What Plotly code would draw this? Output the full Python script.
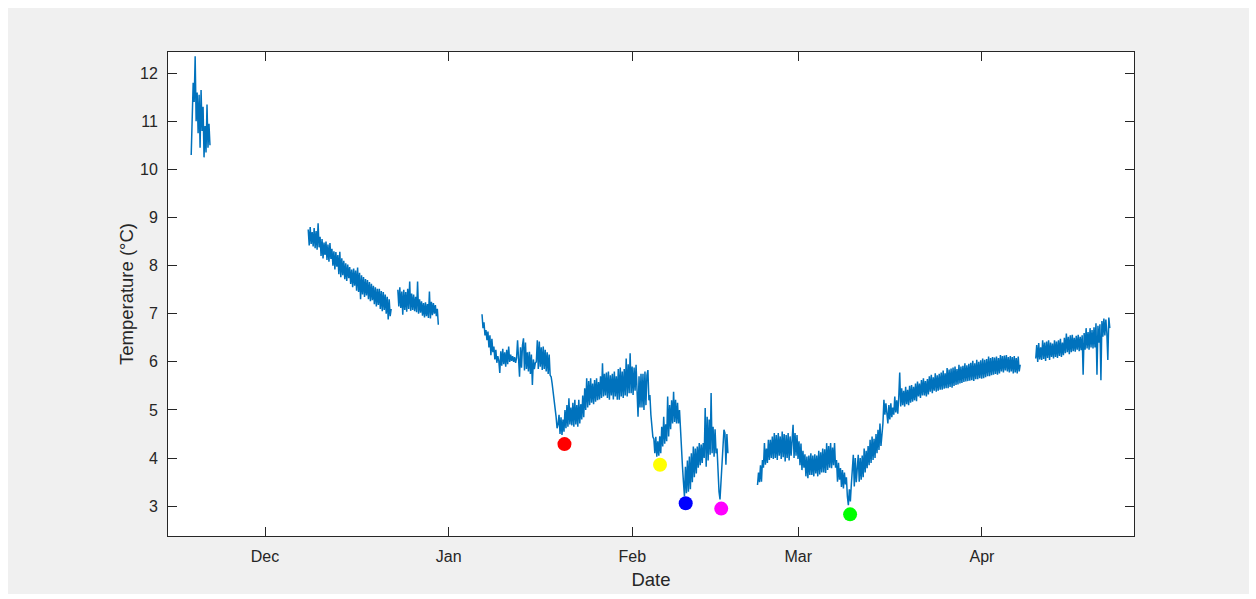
import pandas as pd
import plotly.graph_objects as go

# ---------------- data ----------------
# each segment: start time and temperatures (°C) sampled every step_hours
seg1_start = "2018-11-18 13:00"
seg1_temp = [10.30, 11.20, 11.80, 11.40, 12.35, 11.00, 11.60, 10.75, 11.55, 10.45,
             11.65, 10.80, 11.30, 10.25, 10.90, 10.35, 11.35, 10.45, 10.95, 10.50]

seg2a_start = "2018-12-08 07:00"
seg2a_temp = [8.75, 8.42, 8.80, 8.45, 8.70, 8.40,
              8.78, 8.36, 8.72, 8.33, 8.88, 8.38,
              8.60, 8.20, 8.55, 8.15, 8.48, 8.22,
              8.50, 8.12, 8.44, 8.08, 8.47, 8.14,
              8.35, 8.00, 8.30, 7.92, 8.28, 7.98,
              8.22, 7.82, 8.29, 7.76, 8.15, 7.80,
              8.10, 7.72, 8.05, 7.68, 8.02, 7.74,
              7.97, 7.62, 7.92, 7.55, 7.94, 7.58,
              7.90, 7.48, 7.96, 7.45, 7.85, 7.30,
              7.80, 7.40, 7.76, 7.35, 7.72, 7.38,
              7.70, 7.30, 7.66, 7.26, 7.62, 7.28,
              7.58, 7.20, 7.55, 7.15, 7.52, 7.18,
              7.52, 7.10, 7.47, 7.05, 7.45, 7.08,
              7.40, 7.00, 7.35, 6.88, 7.30, 6.95,
              7.10]

seg2b_start = "2018-12-23 10:00"
seg2b_temp = [7.50, 7.15, 7.55, 7.12, 7.46, 6.98,
              7.50, 7.08, 7.45, 7.04, 7.52, 7.10,
              7.67, 7.06, 7.42, 7.08, 7.40, 7.05,
              7.35, 7.03, 7.67, 7.00, 7.30, 7.02,
              7.26, 6.96, 7.22, 6.92, 7.24, 6.95,
              7.20, 6.91, 7.46, 6.90, 7.25, 6.97,
              7.22, 7.00, 7.18, 6.95, 7.10, 6.77]

seg3_start = "2019-01-06 15:00"
seg3_temp = [6.99, 6.70, 6.82, 6.55, 6.66, 6.45,
             6.63, 6.30, 6.55, 6.14, 6.48, 6.20,
             6.32, 6.05, 6.25, 5.98, 6.12, 6.02,
             5.77, 6.22, 5.92, 6.27, 5.95, 6.20,
             5.90, 6.25, 5.95, 6.32, 6.00, 6.15,
             6.02, 6.12, 6.00, 6.10, 5.98, 6.08,
             6.45, 5.85, 5.69, 6.30, 5.88, 6.35,
             6.49, 5.82, 6.40, 5.85, 6.20, 5.80,
             6.21, 5.75, 6.15, 5.52, 6.05, 5.85,
             5.98, 6.00, 6.45, 5.85, 6.42, 5.90,
             6.30, 5.83, 6.32, 5.85, 6.25, 5.80,
             6.20, 5.75, 6.15, 5.72, 5.69, 5.55,
             5.40, 5.21, 5.00, 4.86, 4.62, 4.70,
             4.90, 4.50, 4.85, 4.48, 4.80, 4.55,
             5.00, 4.62, 5.10, 4.65, 5.24, 4.70,
             5.05, 4.68, 5.15, 4.65, 5.21, 4.70,
             5.10, 4.65, 5.21, 4.72, 5.12, 4.80,
             5.30, 4.85, 5.45, 5.00, 5.66, 5.05,
             5.60, 5.10, 5.66, 5.15, 5.55, 5.12,
             5.62, 5.17, 5.66, 5.20, 5.58, 5.22,
             5.70, 5.25, 5.97, 5.28, 5.75, 5.30,
             5.78, 5.25, 5.80, 5.21, 5.72, 5.30,
             5.75, 5.22, 5.80, 5.28, 5.70, 5.21,
             5.85, 5.21, 5.88, 5.28, 5.80, 5.25,
             5.85, 5.30, 6.07, 5.28, 5.95, 5.35,
             6.18, 5.35, 5.90, 5.31, 5.88, 5.40,
             5.94, 5.40, 4.86, 5.70, 5.05, 5.75,
             5.05, 5.75, 5.00, 5.80, 5.10, 5.72,
             5.83, 5.20, 5.31, 4.90, 4.60, 4.44,
             4.40, 4.10, 4.44, 4.03, 4.35, 4.05,
             4.45, 4.10, 4.65, 4.24, 4.86, 4.30,
             4.70, 4.35, 5.28, 4.45, 5.10, 4.60,
             5.20, 4.72, 5.38, 4.75, 5.21, 4.72,
             5.15, 4.72, 5.00, 4.52, 4.10, 3.82,
             3.50, 3.20, 3.82, 3.27, 3.95, 3.30,
             4.03, 3.35, 4.10, 3.50, 4.24, 3.60,
             4.20, 3.68, 4.24, 3.80, 4.31, 3.85,
             4.28, 3.90, 4.31, 4.00, 5.04, 3.82,
             4.86, 3.95, 4.80, 4.07, 5.35, 4.10,
             4.65, 4.03, 4.60, 4.10, 4.20, 3.60,
             3.30, 3.14, 3.50, 3.90, 4.30, 4.59,
             4.52, 3.86, 4.50, 4.10]

seg4_start = "2019-02-22 03:00"
seg4_temp = [3.44, 3.70, 3.50, 3.85, 3.51, 3.96,
             3.80, 4.31, 3.86, 4.20, 3.90, 4.38,
             3.96, 4.38, 4.00, 4.45, 3.98, 4.52,
             4.00, 4.48, 3.96, 4.52, 4.05, 4.45,
             3.98, 4.55, 4.02, 4.50, 3.93, 4.48,
             4.00, 4.52, 3.95, 4.45, 4.05, 4.50,
             4.69, 4.00, 4.52, 4.05, 4.48, 3.98,
             4.35, 3.85, 4.30, 3.75, 4.15, 3.80,
             4.08, 3.62, 4.03, 3.58, 4.05, 3.65,
             4.10, 3.65, 4.05, 3.62, 4.08, 3.68,
             4.05, 3.62, 4.15, 3.66, 4.12, 3.70,
             4.20, 3.70, 4.18, 3.69, 4.31, 3.75,
             4.25, 3.80, 4.31, 3.79, 4.22, 3.85,
             4.31, 3.80, 3.96, 3.51, 3.90, 3.55,
             3.79, 3.40, 3.75, 3.37, 3.70, 3.45,
             3.60, 3.20, 3.02, 3.35, 3.10, 3.45,
             3.80, 4.07, 3.41, 4.00, 3.50, 3.95,
             4.07, 3.51, 4.00, 3.55, 4.05, 3.60,
             4.20, 3.70, 4.15, 3.79, 4.25, 3.85,
             4.38, 3.90, 4.45, 3.96, 4.40, 4.00,
             4.50, 4.10, 4.59, 4.17, 4.72, 4.25,
             4.52, 4.72, 5.21, 4.90, 5.14, 4.90,
             4.72, 5.10, 4.80, 5.14, 4.85, 5.05,
             4.90, 5.28, 4.95, 5.20, 4.92, 5.25,
             5.78, 5.07, 5.45, 5.10, 5.40, 5.07,
             5.48, 5.12, 5.42, 5.10, 5.50, 5.15,
             5.52, 5.17, 5.48, 5.20, 5.55, 5.18,
             5.59, 5.28, 5.55, 5.25, 5.62, 5.30,
             5.66, 5.30, 5.60, 5.28, 5.64, 5.32,
             5.70, 5.38, 5.73, 5.35, 5.68, 5.40,
             5.76, 5.38, 5.72, 5.40, 5.75, 5.42,
             5.78, 5.42, 5.82, 5.44, 5.76, 5.45,
             5.87, 5.45, 5.84, 5.48, 5.86, 5.46,
             5.88, 5.50, 5.90, 5.52, 5.85, 5.53,
             5.94, 5.55, 5.90, 5.56, 5.92, 5.58,
             5.97, 5.59, 5.93, 5.60, 5.96, 5.61,
             5.98, 5.62, 6.02, 5.60, 5.97, 5.64,
             6.04, 5.64, 6.00, 5.66, 6.03, 5.65,
             6.07, 5.66, 6.04, 5.68, 6.06, 5.70,
             6.11, 5.70, 6.08, 5.72, 6.10, 5.73,
             6.09, 5.75, 6.11, 5.73, 6.08, 5.76,
             6.14, 5.80, 6.12, 5.78, 6.13, 5.82,
             6.14, 5.80, 6.10, 5.78, 6.12, 5.80,
             6.10, 5.76, 6.12, 5.78, 6.08, 5.76,
             6.11, 5.80, 5.94]

seg5_start = "2019-04-10 02:00"
seg5_temp = [6.07, 6.35, 6.00, 6.39, 6.05, 6.30,
             6.04, 6.45, 6.06, 6.40, 6.02, 6.42,
             6.08, 6.45, 6.04, 6.40, 6.10, 6.38,
             6.07, 6.45, 6.10, 6.42, 6.08, 6.45,
             6.12, 6.48, 6.10, 6.40, 6.14, 6.50,
             6.18, 6.59, 6.20, 6.52, 6.16, 6.55,
             6.20, 6.56, 6.22, 6.50, 6.21, 6.54,
             6.25, 6.56, 6.22, 6.52, 6.24, 6.55,
             5.73, 6.60, 6.25, 6.70, 6.28, 6.62,
             6.25, 6.70, 6.30, 6.66, 6.28, 6.72,
             6.30, 6.80, 5.73, 6.75, 6.40, 6.78,
             5.62, 6.85, 6.52, 6.90, 6.55, 6.88,
             6.60, 6.04, 6.92, 6.70]

step_hours = 4

marker_dates = ["2019-01-20 13:00", "2019-02-05 16:00", "2019-02-10 00:00",
                "2019-02-16 00:00", "2019-03-09 18:00"]
marker_temps = [4.29, 3.86, 3.06, 2.95, 2.83]
marker_colors = ["#FF0000", "#FFFF00", "#0000FF", "#FF00FF", "#00FF00"]

x_tick_dates = ["2018-12-01", "2019-01-01", "2019-02-01", "2019-03-01", "2019-04-01"]
x_tick_labels = ["Dec", "Jan", "Feb", "Mar", "Apr"]
y_ticks = [3, 4, 5, 6, 7, 8, 9, 10, 11, 12]

x_range = ["2018-11-14 15:00", "2019-04-26 16:00"]
y_range = [2.38, 12.44]

# ---------------- build the series ----------------
segments = [
    (seg1_start, seg1_temp),
    (seg2a_start, seg2a_temp),
    (seg2b_start, seg2b_temp),
    (seg3_start, seg3_temp),
    (seg4_start, seg4_temp),
    (seg5_start, seg5_temp),
]
xs, ys = [], []
for start, vals in segments:
    t = pd.date_range(start=start, periods=len(vals), freq=f"{step_hours}h")
    xs.extend(list(t))
    ys.extend(vals)
    xs.append(None)
    ys.append(None)

FONT = "Arial, 'Liberation Sans', Helvetica, sans-serif"
AX = "#262626"

fig = go.Figure()
fig.add_trace(go.Scatter(
    x=xs, y=ys, mode="lines", connectgaps=False,
    line=dict(color="#0072BD", width=1.5), showlegend=False, hoverinfo="skip"))

for d, t, c in zip(marker_dates, marker_temps, marker_colors):
    fig.add_trace(go.Scatter(
        x=[pd.Timestamp(d)], y=[t], mode="markers",
        marker=dict(color=c, size=14, line=dict(width=0)), showlegend=False))

W, H = 1256, 599
L, R, T, B = 168, 122, 52, 63
pw, ph = W - L - R, H - T - B


def px_x(p):
    return (p - L) / pw


def px_y(p):
    return (H - B - p) / ph


# white frame around the grey figure area
frame = [(0, 8, 0, H), (1249, W, 0, H), (0, W, 0, 8), (0, W, 594, H)]
for x0, x1, y0, y1 in frame:
    fig.add_shape(type="rect", xref="paper", yref="paper", layer="below",
                  x0=px_x(x0), x1=px_x(x1), y0=px_y(y1), y1=px_y(y0),
                  fillcolor="#FFFFFF", line=dict(width=0))

fig.update_layout(
    width=W, height=H,
    margin=dict(l=L, r=R, t=T, b=B, pad=0),
    paper_bgcolor="#F0F0F0", plot_bgcolor="#FFFFFF",
    font=dict(family=FONT, color=AX, size=16),
    xaxis=dict(
        type="date", range=x_range,
        tickvals=[pd.Timestamp(d) for d in x_tick_dates], ticktext=x_tick_labels,
        ticks="inside", ticklen=9, tickwidth=1, tickcolor=AX,
        showline=True, linecolor=AX, linewidth=1, mirror="ticks",
        showgrid=False, zeroline=False,
        tickfont=dict(size=16, color=AX, family=FONT),
        ticklabelstandoff=6,
        title=dict(text="Date", font=dict(size=18.5, color=AX, family=FONT), standoff=8),
    ),
    yaxis=dict(
        range=y_range, tickvals=y_ticks,
        ticks="inside", ticklen=9, tickwidth=1, tickcolor=AX,
        showline=True, linecolor=AX, linewidth=1, mirror="ticks",
        showgrid=False, zeroline=False,
        tickfont=dict(size=16, color=AX, family=FONT),
        ticklabelstandoff=6,
        title=dict(text="Temperature (°C)", font=dict(size=18.5, color=AX, family=FONT), standoff=1),
    ),
)

fig.write_html("out.html")
